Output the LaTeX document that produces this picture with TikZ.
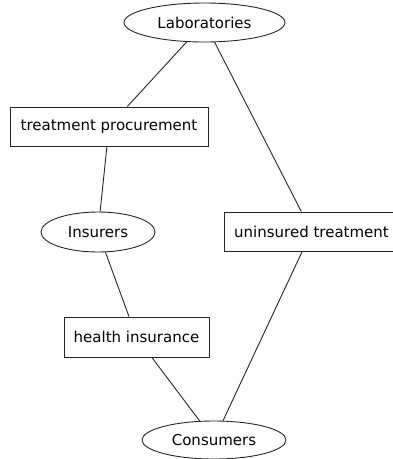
\documentclass[tikz,border=0pt]{standalone}
\usepackage{fontspec}
\setmainfont{DejaVu Sans}
\usepackage{tikz}
\usetikzlibrary{shapes.geometric}

\begin{document}
\begin{tikzpicture}[x=1pt, y=-1pt,
    every node/.style={draw=black!85, line width=0.9pt, inner sep=0pt,
        font=\fontsize{15}{18}\selectfont},
    party/.style={ellipse, minimum height=39pt},
    market/.style={rectangle, minimum height=39pt}]
\useasboundingbox (0,0) rectangle (393,459);

\node[party, minimum width=161pt] (lab) at (204.5, 22.5) {Laboratories};
\node[market, minimum width=198pt] (proc) at (109, 126.5) {treatment procurement};
\node[party, minimum width=114pt, minimum height=40pt] (ins) at (98, 232) {Insurers};
\node[market, minimum width=175pt] (unins) at (311.5, 231.5) {uninsured treatment};
\node[market, minimum width=145pt, minimum height=40pt] (hins) at (136.5, 337) {health insurance};
\node[party, minimum width=144pt, minimum height=38pt] (cons) at (214, 440) {Consumers};

% links between the parties and the markets
\draw[line width=0.9pt, black!85] (lab) -- (proc);
\draw[line width=0.9pt, black!85] (lab) -- (unins);
\draw[line width=0.9pt, black!85] (proc) -- (ins);
\draw[line width=0.9pt, black!85] (ins) -- (hins);
\draw[line width=0.9pt, black!85] (hins) -- (cons);
\draw[line width=0.9pt, black!85] (unins) -- (cons);
\end{tikzpicture}
\end{document}
